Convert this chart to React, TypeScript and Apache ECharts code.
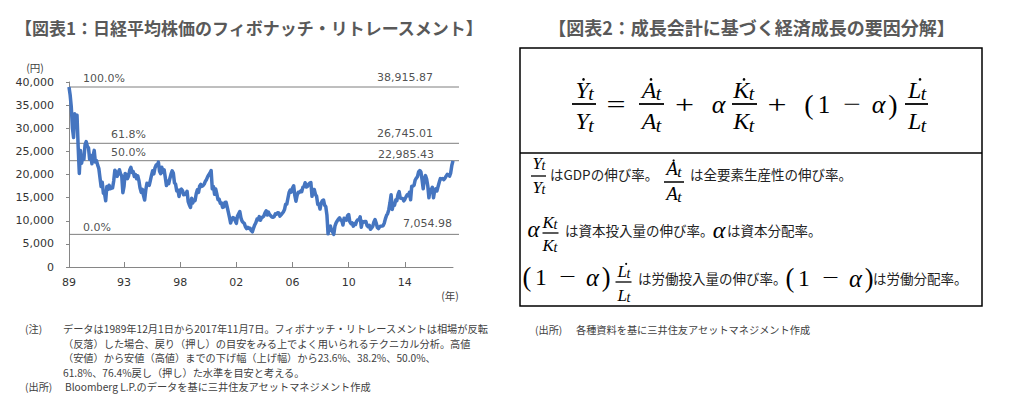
import React, { useEffect, useRef } from 'react';
import * as echarts from 'echarts';

// ---------- data ----------
const startYear = 1989;
const startMonth = 12;
// Nikkei 225, one value per month (Dec 1989 .. Nov 2017)
const nikkeiMonthly: number[] = [
  38916,
  37189, 34592, 29980, 28002, 33131, 31940, 32800, 25978, 20222, 25194, 22455, 23849,
  23293, 26409, 27100, 26111, 25790, 23291, 24121, 22336, 23916, 25222, 22687, 22984,
  22023, 21339, 19346, 17391, 18348, 15952, 15910, 14309, 17399, 16767, 17684, 16925,
  17024, 17098, 18591, 20919, 20552, 19590, 20380, 21027, 20106, 19703, 16078, 17417,
  20229, 19997, 19112, 19725, 20973, 21552, 20449, 20629, 19564, 19990, 19076, 19723,
  18650, 17053, 16140, 16807, 15437, 14485, 16678, 18117, 17913, 17655, 18744, 19868,
  20813, 20125, 21407, 22041, 21956, 22666, 20693, 20167, 21556, 20467, 21020, 19361,
  17600, 18557, 18003, 19151, 20069, 20800, 20331, 18229, 17888, 16459, 16636, 15259,
  16628, 16832, 16527, 15641, 15671, 15830, 16379, 14108, 13406, 12880, 14884, 13842,
  14499, 14368, 15837, 16702, 16112, 17530, 17862, 17437, 17605, 17942, 18558, 18934,
  19540, 19960, 20337, 20833, 16900, 17411, 15727, 16861, 15747, 14540, 14649, 13786,
  13843, 12884, 12999, 13934, 14000, 12969, 11861, 10714, 9504, 10367, 10697, 10543,
  9998, 9420, 11025, 11493, 11979, 10622, 9877, 9619, 9383, 8640, 8303, 8579,
  8340, 8363, 7862, 7608, 8425, 9083, 9563, 10344, 10219, 10900, 10101, 10677,
  10784, 11042, 11715, 12163, 11236, 11859, 11326, 11082, 10824, 10771, 10899, 11489,
  11388, 11741, 11669, 11009, 11277, 11584, 11900, 12414, 13574, 13607, 14872, 16111,
  16650, 16206, 17060, 17563, 15467, 14219, 15457, 16141, 16128, 16399, 16274, 17226,
  17383, 18215, 17288, 17400, 17876, 18138, 18262, 15273, 16786, 16737, 15681, 15308,
  13592, 13603, 12526, 13850, 14339, 14489, 13377, 13073, 11260, 7163, 8512, 8860,
  7994, 7568, 7055, 8828, 9523, 9958, 10357, 10639, 10133, 10035, 9081, 10546,
  10198, 10126, 11090, 11339, 9769, 9383, 9537, 8824, 9369, 9202, 9937, 10229,
  10238, 10857, 8605, 9850, 9694, 9816, 9833, 8955, 8700, 8988, 8160, 8455,
  8803, 9723, 10255, 9521, 8543, 8295, 8695, 8840, 8870, 8928, 9446, 10395,
  11139, 11559, 12398, 13861, 15627, 12445, 13668, 13389, 14456, 14328, 15662, 16291,
  14915, 14841, 14828, 14304, 14632, 15162, 15621, 15425, 16174, 14532, 17460, 17451,
  17674, 18798, 19207, 19520, 20563, 20868, 20585, 18890, 16930, 19083, 19747, 19034,
  17518, 14953, 16759, 16666, 17235, 14952, 16569, 16887, 16450, 17425, 18308, 19114,
  19041, 19119, 18909, 19197, 19651, 20033, 19925, 19646, 20356, 22012, 22938,
];
const monthCategories: string[] = nikkeiMonthly.map((_, i) => {
  const m = startMonth - 1 + i;
  const y = startYear + Math.floor(m / 12);
  return `${y}-${String((m % 12) + 1).padStart(2, '0')}`;
});
const xTickIndex: number[] = [0, 48, 97, 146, 195, 244, 293];
const xTickLabels: string[] = ['89', '93', '98', '02', '06', '10', '14'];

const yMin = 0;
const yMax = 40000;
const yInterval = 5000;

const fibLevels: number[] = [38915.87, 26745.01, 22985.43, 7054.98];
const fibPct: string[] = ['100.0%', '61.8%', '50.0%', '0.0%'];

// label placement (styling only)
const pctDx = [14, 42, 42, 14];
const pctDy = [-9, -9, -8, -7];
const valDx = [-26, -26, -25, -7];
const valDy = [-10, -10, -6, -11];

const title1 = '【図表1：日経平均株価のフィボナッチ・リトレースメント】';
const title2 = '【図表2：成長会計に基づく経済成長の要因分解】';
const noteHeads = ['(注)', '', '', '', '(出所)'];
const noteLines = [
  'データは1989年12月1日から2017年11月7日。フィボナッチ・リトレースメントは相場が反転',
  '（反落）した場合、戻り（押し）の目安をみる上でよく用いられるテクニカル分析。高値',
  '（安値）から安値（高値）までの下げ幅（上げ幅）から23.6%、38.2%、50.0%、',
  '61.8%、76.4%戻し（押し）た水準を目安と考える。',
  'Bloomberg L.P.のデータを基に三井住友アセットマネジメント作成',
];
const source2 = ['(出所)', '各種資料を基に三井住友アセットマネジメント作成'];

// ---------- helpers ----------
const SERIF = '"Liberation Serif", "DejaVu Serif", serif';
const JP = '"Noto Sans CJK JP", sans-serif';
const SANS = '"DejaVu Sans", Verdana, sans-serif';

type Opt = { family?: string; italic?: boolean; bold?: boolean; fill?: string; align?: string; scaleX?: number };
function txt(x: number, y: number, text: string, size: number, o: Opt = {}) {
  const align = o.align || 'center';
  return {
    type: 'text',
    x,
    y,
    scaleX: o.scaleX || 1,
    silent: true,
    style: {
      text,
      fontSize: size,
      fontFamily: o.family || SERIF,
      fontStyle: o.italic ? 'italic' : 'normal',
      fontWeight: o.bold ? 'bold' : 'normal',
      fill: o.fill || '#000',
      textAlign: align,
      align,
      textVerticalAlign: 'middle',
      verticalAlign: 'middle',
    },
  };
}
function hline(x1: number, x2: number, y: number, w: number, color = '#000') {
  return { type: 'line', silent: true, shape: { x1, y1: y, x2, y2: y }, style: { stroke: color, lineWidth: w } };
}
function sym(cx: number, cy: number, letter: string, s: number, dot: boolean, dotDx = 0) {
  const xr = cx + 0.2 * s;
  const els: any[] = [
    txt(xr, cy, letter, s, { italic: true, align: 'right' }),
    txt(xr - 0.5, cy + 0.16 * s, 't', s * 0.82, { italic: true, align: 'left' }),
  ];
  if (dot) {
    els.push({ type: 'circle', silent: true, shape: { cx: cx - 0.02 * s + dotDx, cy: cy - 0.42 * s, r: Math.max(1.1, s * 0.055) }, style: { fill: '#000' } });
  }
  return els;
}
function frac(cx: number, by: number, letter: string, s: number, numDot: boolean, numDy: number, denDy: number, halfW: number, lw: number, dotDx = 0) {
  return [
    ...sym(cx, by + numDy, letter, s, numDot, dotDx),
    hline(cx - halfW, cx + halfW, by, lw),
    ...sym(cx, by + denDy, letter, s, false),
  ];
}
function oneMinusAlpha(x0: number, cy: number, k: number) {
  return [
    txt(x0 + 4 * k, cy, '(', 28 * k),
    txt(x0 + 19 * k, cy, '1', 25 * k),
    txt(x0 + 47 * k, cy, '−', 24 * k, { scaleX: 1.3 }),
    txt(x0 + 73.5 * k, cy, 'α', 26 * k, { italic: true }),
    txt(x0 + 88 * k, cy, ')', 28 * k),
  ];
}

function buildGraphics() {
  const g: any[] = [];
  // titles
  g.push(txt(15, 27, title1, 17, { family: JP, bold: true, fill: '#595959', align: 'left' }));
  g.push(txt(751.5, 27, title2, 18, { family: JP, bold: true, fill: '#595959' }));
  // axis units
  g.push(txt(35, 67, '(円)', 10.5, { family: JP, fill: '#404040' }));
  g.push(txt(450, 295, '(年)', 10.5, { family: JP, fill: '#404040' }));
  // notes
  const noteY = [328, 343, 357, 372, 386];
  noteLines.forEach((line, i) => {
    if (noteHeads[i]) g.push(txt(25, noteY[i], noteHeads[i], 10.2, { family: JP, fill: '#404040', align: 'left' }));
    g.push(txt(i === 4 ? 65 : 63, noteY[i], line, 10.2, { family: JP, fill: '#404040', align: 'left' }));
  });
  g.push(txt(535, 329, source2[0], 10.2, { family: JP, fill: '#404040', align: 'left' }));
  g.push(txt(576, 329, source2[1], 10.2, { family: JP, fill: '#404040', align: 'left' }));

  // right box
  g.push({ type: 'rect', silent: true, shape: { x: 520, y: 48, width: 462, height: 258 }, style: { fill: 'none', stroke: '#000', lineWidth: 1.5 } });
  g.push(hline(520, 982, 153, 1.5));

  // main formula
  const by = 104;
  g.push(...frac(584, by, 'Y', 24, true, -14.5, 17, 12, 1.8));
  g.push(txt(616, by, '=', 26, { scaleX: 1.3 }));
  g.push(...frac(651.5, by, 'A', 24, true, -14.5, 17, 12.5, 1.8));
  g.push(txt(684.5, by, '+', 26, { scaleX: 1.3 }));
  g.push(txt(718.5, by, 'α', 26, { italic: true }));
  g.push(...frac(744.5, by, 'K', 24, true, -14.5, 17, 12.5, 1.8));
  g.push(txt(777, by, '+', 26, { scaleX: 1.3 }));
  g.push(...oneMinusAlpha(805, by, 1));
  g.push(...frac(916.5, by, 'L', 24, true, -14.5, 17, 11.5, 1.8, 4));

  // description rows
  const jp = { family: JP, fill: '#222', align: 'left' };
  g.push(...frac(538.5, 176, 'Y', 17, false, -13, 11, 7.5, 1.3));
  g.push(txt(550, 174, 'はGDPの伸び率。', 13.5, jp));
  g.push(...frac(674, 182, 'A', 19, true, -13.5, 11.5, 10, 1.5));
  g.push(txt(690, 174, 'は全要素生産性の伸び率。', 13.5, jp));

  g.push(txt(533.5, 229, 'α', 23, { italic: true }));
  g.push(...frac(550.5, 233, 'K', 17, false, -11, 12, 8, 1.3));
  g.push(txt(565, 230, 'は資本投入量の伸び率。', 13.5, jp));
  g.push(txt(719, 230, 'α', 24, { italic: true }));
  g.push(txt(727, 230, 'は資本分配率。', 13.5, jp));

  g.push(...oneMinusAlpha(523, 277, 0.946));
  g.push(...frac(623.5, 282, 'L', 17, true, -11, 13, 8, 1.3, 3));
  g.push(txt(638, 278, 'は労働投入量の伸び率。', 13.5, jp));
  g.push(...oneMinusAlpha(786, 278, 0.946));
  g.push(txt(873, 278, 'は労働分配率。', 13.5, jp));
  return g;
}

const fmt2 = (v: number) => v.toLocaleString('en-US', { minimumFractionDigits: 2, maximumFractionDigits: 2 });

export default function App() {
  const ref = useRef<HTMLDivElement>(null);
  useEffect(() => {
    if (!ref.current) return;
    const chart = echarts.init(ref.current, null, { renderer: 'svg' });
    const axisColor = '#868686';
    const labelStyle = { color: '#333', fontFamily: SANS, fontSize: 11 };
    const isTick = (index: number) => xTickIndex.includes(index);

    const fibSeries = fibLevels.map((v) => ({
      type: 'line',
      xAxisIndex: 1,
      yAxisIndex: 1,
      silent: true,
      symbol: 'none',
      data: [[0, v], [1, v]],
      lineStyle: { color: '#7f7f7f', width: 1 },
      z: 1,
    }));

    const option: any = {
      animation: false,
      backgroundColor: '#ffffff',
      grid: [
        { left: 69, right: 1012 - 453, top: 82, bottom: 398 - 267 },
        { left: 69, right: 1012 - 459, top: 82, bottom: 398 - 267 },
      ],
      xAxis: [
        {
          type: 'category',
          gridIndex: 0,
          data: monthCategories,
          boundaryGap: false,
          axisLine: { lineStyle: { color: axisColor, width: 1 } },
          axisTick: { show: true, inside: true, length: 5, interval: isTick, lineStyle: { color: axisColor } },
          axisLabel: {
            ...labelStyle,
            margin: 10,
            interval: isTick,
            formatter: (_v: string, index: number) => {
              const k = xTickIndex.indexOf(index);
              return k >= 0 ? xTickLabels[k] : '';
            },
          },
          splitLine: { show: false },
        },
        { type: 'value', gridIndex: 1, min: 0, max: 1, show: false },
      ],
      yAxis: [
        {
          type: 'value',
          gridIndex: 0,
          min: yMin,
          max: yMax,
          interval: yInterval,
          axisLine: { show: true, lineStyle: { color: axisColor, width: 1 } },
          axisTick: { show: true, length: 3, lineStyle: { color: axisColor } },
          axisLabel: { ...labelStyle, margin: 15, formatter: (v: number) => v.toLocaleString('en-US') },
          splitLine: { show: false },
        },
        { type: 'value', gridIndex: 1, min: yMin, max: yMax, show: false },
      ],
      series: [
        ...fibSeries,
        {
          type: 'scatter',
          xAxisIndex: 1,
          yAxisIndex: 1,
          silent: true,
          symbol: 'rect',
          symbolSize: 1,
          itemStyle: { color: 'rgba(0,0,0,0)' },
          data: fibLevels.map((v, i) => ({
            value: [0, v],
            label: { offset: [pctDx[i], pctDy[i]] },
          })),
          label: {
            show: true,
            position: 'inside',
            align: 'left',
            verticalAlign: 'middle',
            color: '#222',
            fontFamily: SANS,
            fontSize: 11,
            formatter: (p: any) => fibPct[p.dataIndex],
          },
        },
        {
          type: 'scatter',
          xAxisIndex: 1,
          yAxisIndex: 1,
          silent: true,
          symbol: 'rect',
          symbolSize: 1,
          itemStyle: { color: 'rgba(0,0,0,0)' },
          data: fibLevels.map((v, i) => ({
            value: [1, v],
            label: { offset: [valDx[i], valDy[i]] },
          })),
          label: {
            show: true,
            position: 'inside',
            align: 'right',
            verticalAlign: 'middle',
            color: '#222',
            fontFamily: SANS,
            fontSize: 11,
            formatter: (p: any) => fmt2(fibLevels[p.dataIndex]),
          },
        },
        {
          type: 'line',
          xAxisIndex: 0,
          yAxisIndex: 0,
          data: nikkeiMonthly,
          showSymbol: false,
          symbol: 'none',
          lineStyle: { color: '#4575C0', width: 3.5, join: 'round' },
          z: 5,
        },
      ],
      graphic: { elements: buildGraphics() },
    };
    chart.setOption(option);
    return () => chart.dispose();
  }, []);
  return <div ref={ref} style={{ position: 'absolute', left: 0, top: 0, width: 1012, height: 398, background: '#fff' }} />;
}
